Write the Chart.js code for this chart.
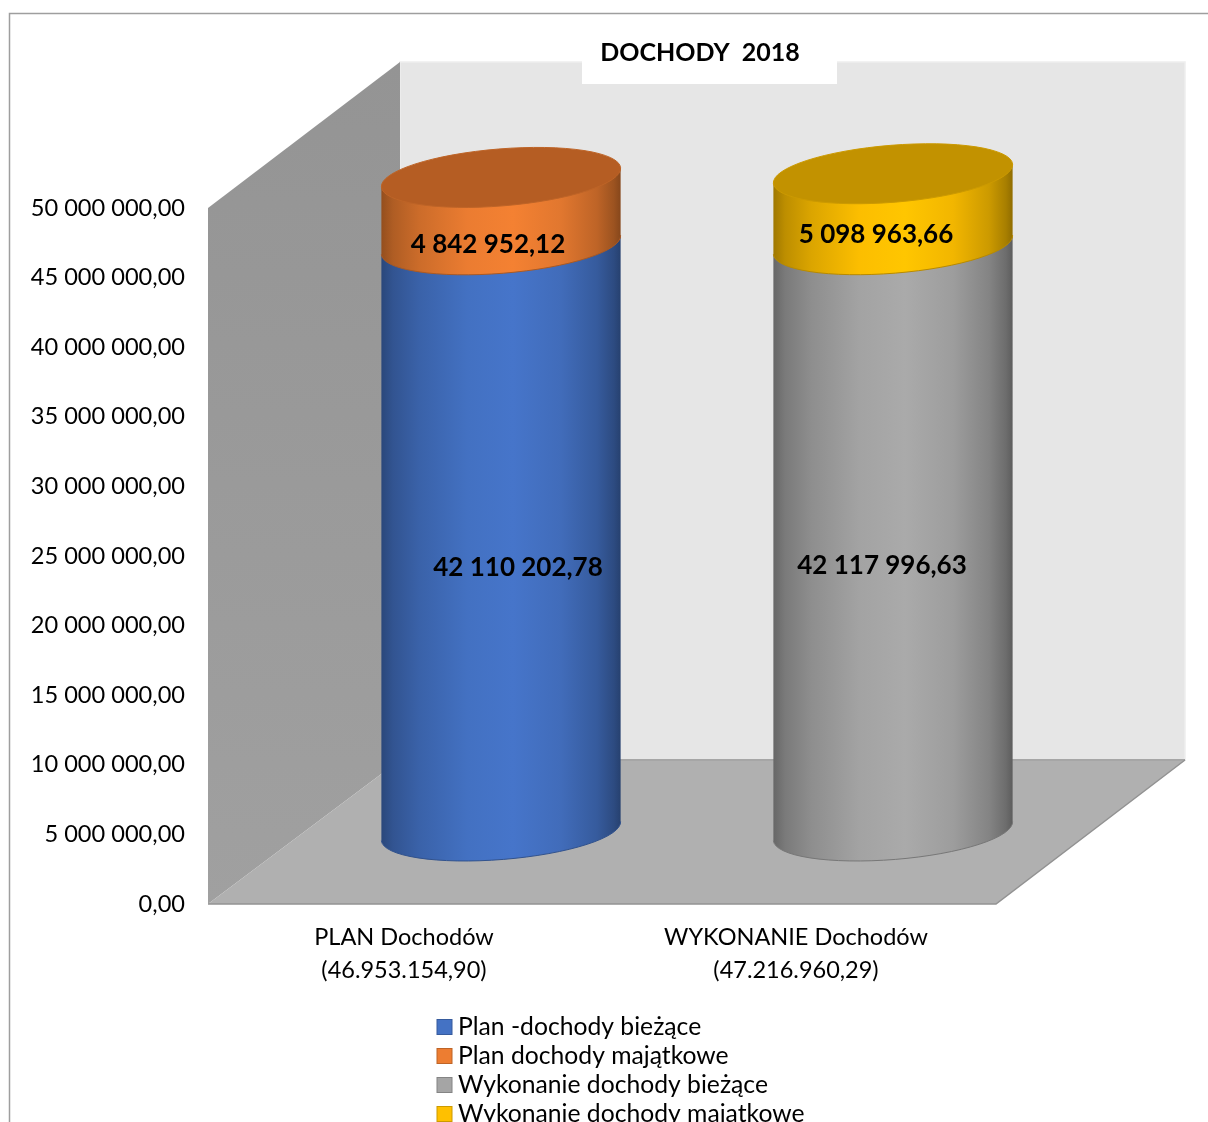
<!DOCTYPE html>
<html><head><meta charset="utf-8">
<style>html,body{margin:0;padding:0;background:#fff;overflow:hidden}canvas{display:block}</style>
<script src="https://cdn.jsdelivr.net/npm/chart.js@4"></script>
</head><body><canvas id="c" width="1208" height="1122" style="width:1208px;height:1122px"></canvas>
<script>
const titleText = 'DOCHODY  2018';
const categories = [['PLAN Dochodów','(46.953.154,90)'],['WYKONANIE Dochodów','(47.216.960,29)']];
const seriesNames = ['Plan -dochody bieżące','Plan dochody majątkowe','Wykonanie dochody bieżące','Wykonanie dochody majątkowe'];
const planCurrent = [42110202.78, null];
const planCapital = [4842952.12, null];
const execCurrent = [null, 42117996.63];
const execCapital = [null, 5098963.66];
const seriesColors = ['#4472C4','#ED7D31','#A5A5A5','#FFC000'];
const capColors = ['#3a62a8','#B55D23','#8a8a8a','#C29200'];
const labelNudge = [[17,30],[-13,33],[-11,28],[-17,25]];
const FONT = 'Lato, Carlito, sans-serif';

function fmt(v){
  const s = Number(v).toFixed(2).split('.');
  return s[0].replace(/\B(?=(\d{3})+(?!\d))/g,' ') + ',' + s[1];
}
function shade(hex,f){
  const n = parseInt(hex.slice(1),16);
  const c = [n>>16,(n>>8)&255,n&255].map(x=>Math.min(255,Math.round(x*f)));
  return `rgb(${c[0]},${c[1]},${c[2]})`;
}
const ROT = -4.6*Math.PI/180, RY = 28.5;
const DX = 97, DY = 73;

function cylinderPath(ctx,cx,rx,top,bot){
  const a = rx*Math.cos(ROT), b = rx*Math.sin(ROT);
  ctx.beginPath();
  ctx.ellipse(cx,bot,rx,RY,ROT,0,Math.PI);
  ctx.lineTo(cx-a,top-b);
  ctx.lineTo(cx+a,top+b);
  ctx.closePath();
}
const scene = {
  id:'scene',
  beforeDraw(chart){
    const {ctx,chartArea:a,scales:{y}} = chart;
    const L=a.left, B=y.getPixelForValue(0), T=y.getPixelForValue(50000000);
    const bx=L+192, by=B-144, ty=T-146, R=1185;
    ctx.save();
    ctx.fillStyle='#fff'; ctx.fillRect(0,0,chart.width,chart.height);
    // outer frame
    ctx.strokeStyle='#9e9e9e'; ctx.lineWidth=1.5;
    ctx.beginPath(); ctx.moveTo(9.5,chart.height); ctx.lineTo(9.5,13.5); ctx.lineTo(chart.width,13.5); ctx.stroke();
    // back wall
    ctx.fillStyle='#e6e6e6'; ctx.fillRect(bx,ty,R-bx,by-ty);
    ctx.strokeStyle='#eeeeee'; ctx.lineWidth=1.5; ctx.strokeRect(bx,ty,R-bx,by-ty);
    // left wall
    const g=ctx.createLinearGradient(0,ty,0,B);
    g.addColorStop(0,'#949494'); g.addColorStop(1,'#a0a0a0');
    ctx.fillStyle=g;
    ctx.beginPath(); ctx.moveTo(L,T); ctx.lineTo(bx,ty); ctx.lineTo(bx,by); ctx.lineTo(L,B); ctx.closePath(); ctx.fill();
    // floor
    const fr=a.right+4;
    ctx.fillStyle='#b0b0b0';
    ctx.beginPath(); ctx.moveTo(L,B); ctx.lineTo(bx,by); ctx.lineTo(R,by); ctx.lineTo(fr,B); ctx.closePath(); ctx.fill();
    ctx.strokeStyle='#a6a6a6'; ctx.lineWidth=2;
    ctx.beginPath(); ctx.moveTo(bx,by); ctx.lineTo(R,by); ctx.stroke();
    ctx.strokeStyle='#929292'; ctx.lineWidth=1.5;
    ctx.beginPath(); ctx.moveTo(R,by); ctx.lineTo(fr,B); ctx.lineTo(L,B); ctx.stroke();
    // title
    ctx.fillStyle='#fff'; ctx.fillRect(582,30,255,54);
    ctx.fillStyle='#000'; ctx.font='bold 25px '+FONT; ctx.textAlign='center'; ctx.textBaseline='middle';
    ctx.fillText(titleText,700,53);
    ctx.restore();
  },
  beforeDatasetsDraw(chart){
    const ctx=chart.ctx;
    chart.data.datasets.forEach((ds,di)=>{
      const meta=chart.getDatasetMeta(di);
      meta.data.forEach((el,i)=>{
        if(ds.data[i]==null) return;
        const p=el.getProps(['x','y','base','width'],true);
        const cx=p.x+DX, rx=p.width/2, top=p.y-DY, bot=p.base-DY;
        const c=seriesColors[di];
        const g=ctx.createLinearGradient(cx-rx,0,cx+rx,0);
        [[0,.62],[.05,.74],[.16,.86],[.36,.99],[.55,1.03],[.75,.95],[.9,.8],[.97,.66],[1,.56]]
          .forEach(s=>g.addColorStop(s[0],shade(c,s[1])));
        ctx.save();
        cylinderPath(ctx,cx,rx,top,bot);
        ctx.fillStyle=g; ctx.fill();
        ctx.strokeStyle=shade(c,.72); ctx.lineWidth=1;
        ctx.beginPath(); ctx.ellipse(cx,bot,rx,RY,ROT,0,Math.PI); ctx.stroke();
        if(di%2===1){
          ctx.beginPath(); ctx.ellipse(cx,top,rx,RY,ROT,0,Math.PI*2);
          ctx.fillStyle=capColors[di]; ctx.fill();
          ctx.strokeStyle=shade(c,.8); ctx.stroke();
        }
        ctx.restore();
      });
    });
  },
  beforeDatasetDraw(){ return false; },
  afterDatasetsDraw(chart){
    const ctx=chart.ctx;
    ctx.save();
    ctx.fillStyle='#000'; ctx.font='bold 26px '+FONT; ctx.textAlign='center'; ctx.textBaseline='middle';
    chart.data.datasets.forEach((ds,di)=>{
      chart.getDatasetMeta(di).data.forEach((el,i)=>{
        if(ds.data[i]==null) return;
        const p=el.getProps(['x','y','base'],true);
        ctx.fillText(fmt(ds.data[i]),p.x+DX+labelNudge[di][0],(p.y+p.base)/2-DY+labelNudge[di][1]);
      });
    });
    // legend
    ctx.font='24.7px '+FONT; ctx.textAlign='left';
    chart.data.datasets.forEach((ds,di)=>{
      const y=1027+29*di;
      ctx.fillStyle=ds.backgroundColor; ctx.fillRect(437,y-7.5,15,15);
      ctx.strokeStyle=shade(ds.backgroundColor,.8); ctx.lineWidth=1; ctx.strokeRect(437,y-7.5,15,15);
      ctx.fillStyle='#000'; ctx.fillText(ds.label,458,y);
    });
    ctx.restore();
  }
};
const seriesValues=[planCurrent,planCapital,execCurrent,execCapital];
new Chart(document.getElementById('c'),{
  type:'bar',
  data:{labels:categories,datasets:seriesNames.map((n,i)=>({
    label:n,data:seriesValues[i],backgroundColor:seriesColors[i],
    categoryPercentage:1,barPercentage:240/392
  }))},
  options:{
    responsive:false,animation:false,devicePixelRatio:1,
    layout:{padding:{top:208,right:216,left:0,bottom:0}},
    plugins:{legend:{display:false},title:{display:false},tooltip:{enabled:false}},
    scales:{
      x:{stacked:true,grid:{display:false},border:{display:false},
        afterFit(s){s.height=218;},
        ticks:{color:'#000',font:{family:FONT,size:23.5,lineHeight:33/23.5},padding:9,autoSkip:false,maxRotation:0}},
      y:{stacked:true,min:0,max:50000000,grid:{display:false},border:{display:false},
        afterFit(s){s.width=208;},
        ticks:{stepSize:5000000,color:'#000',font:{family:FONT,size:23.6},padding:15,callback:v=>fmt(v)}}
    }
  },
  plugins:[scene]
});
</script></body></html>
